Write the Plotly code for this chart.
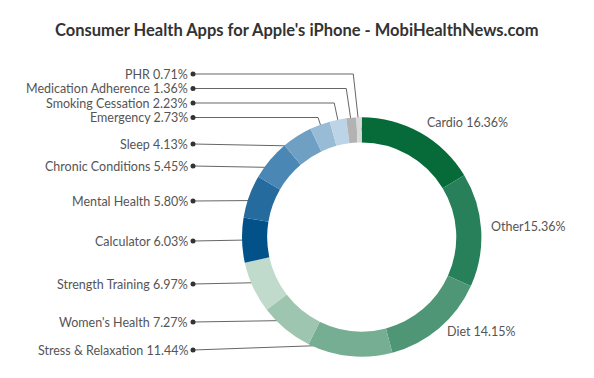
import numpy as np
import plotly.graph_objects as go

# ---- data ----
categories = ["Cardio", "Other", "Diet", "Stress & Relaxation", "Women's Health",
              "Strength Training", "Calculator", "Mental Health", "Chronic Conditions",
              "Sleep", "Emergency", "Smoking Cessation", "Medication Adherence", "PHR"]
values = [16.36, 15.36, 14.15, 11.44, 7.27, 6.97, 6.03, 5.80, 5.45, 4.13, 2.73, 2.23, 1.36, 0.71]
label_text = ["Cardio 16.36%", "Other15.36%", "Diet 14.15%", "Stress & Relaxation 11.44%",
              "Women's Health 7.27%", "Strength Training 6.97%", "Calculator 6.03%",
              "Mental Health 5.80%", "Chronic Conditions 5.45%", "Sleep 4.13%",
              "Emergency 2.73%", "Smoking Cessation 2.23%", "Medication Adherence 1.36%",
              "PHR 0.71%"]

# ---- style / layout ----
colors = ["#066b38", "#27805a", "#4f9677", "#76ae93", "#9ec5b0", "#c0dacc",
          "#035189", "#266b9e", "#4a87b4", "#6f9fc3", "#98bcd6", "#bcd4e6",
          "#b3b3b3", "#d9d9d9"]
W, H = 594, 378
cx, cy, R = 361.7, 237.0, 119.7
hole = 0.79
dot_r = 108
right_idx = [0, 1, 2]
left_idx = list(range(3, 14))
left_label_y = [350, 322, 284, 241, 201, 166, 144, 117.5, 103, 88.5, 74]
label_x = 190
label_dot_x = 193
font_family = "Lato, 'Open Sans', sans-serif"
text_color = "#555555"
label_size = 12.5

vals = np.array(values)
total = vals.sum()
cum_before = np.concatenate([[0], np.cumsum(vals)[:-1]])
mid_ang = 2 * np.pi * (cum_before + vals / 2) / total
dot_x = cx + dot_r * np.sin(mid_ang)
dot_y = cy - dot_r * np.cos(mid_ang)

fig = go.Figure()
fig.add_trace(go.Pie(
    labels=categories, values=values, sort=False, direction="clockwise", rotation=0,
    hole=hole, marker=dict(colors=colors, line=dict(width=0)),
    textinfo="none", showlegend=False,
    domain=dict(x=[(cx - R) / W, (cx + R) / W], y=[(H - cy - R) / H, (H - cy + R) / H]),
))

annotations = []
for k, i in enumerate(left_idx):
    ly = left_label_y[k]
    if abs(ly - dot_y[i]) > 8:
        xs = [label_dot_x, dot_x[i] - 6, dot_x[i]]
        ys = [ly, ly, dot_y[i]]
    else:
        xs = [label_dot_x, dot_x[i]]
        ys = [ly, dot_y[i]]
    fig.add_trace(go.Scatter(x=xs, y=ys, mode="lines", line=dict(color="#666666", width=1),
                             hoverinfo="skip", showlegend=False))
    annotations.append(dict(x=label_x, y=ly, xref="x", yref="y", text=label_text[i],
                            showarrow=False, xanchor="right", yanchor="middle",
                            font=dict(family=font_family, size=label_size, color=text_color)))

ex = [label_dot_x] * len(left_idx) + [dot_x[i] for i in left_idx]
ey = left_label_y + [dot_y[i] for i in left_idx]
fig.add_trace(go.Scatter(x=ex, y=ey, mode="markers", marker=dict(color="#333333", size=5),
                         hoverinfo="skip", showlegend=False))

for i in right_idx:
    lx = cx + 128 * np.sin(mid_ang[i])
    ly = cy - 128 * np.cos(mid_ang[i]) - 3
    annotations.append(dict(x=lx, y=ly, xref="x", yref="y", text=label_text[i],
                            showarrow=False, xanchor="left", yanchor="middle",
                            font=dict(family=font_family, size=label_size, color=text_color)))

annotations.append(dict(x=297, y=30, xref="x", yref="y",
                        text="<b>Consumer Health Apps for Apple's iPhone - MobiHealthNews.com</b>",
                        showarrow=False, xanchor="center", yanchor="middle",
                        font=dict(family=font_family, size=16.5, color="#333333")))

fig.update_layout(
    width=W, height=H, margin=dict(l=0, r=0, t=0, b=0),
    paper_bgcolor="white", plot_bgcolor="rgba(0,0,0,0)",
    xaxis=dict(range=[0, W], visible=False, fixedrange=True),
    yaxis=dict(range=[H, 0], visible=False, fixedrange=True),
    annotations=annotations,
)

fig.write_html("out.html", config={"displayModeBar": False},
               post_script="document.body.style.margin='0';document.body.style.padding='0';")
